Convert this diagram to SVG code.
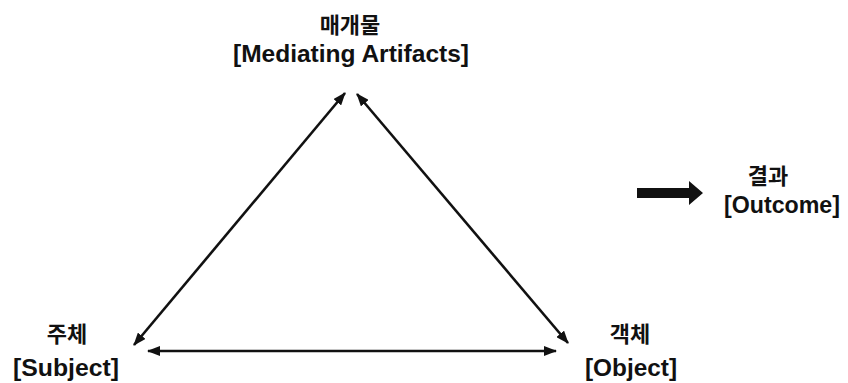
<svg xmlns="http://www.w3.org/2000/svg" width="848" height="383" viewBox="0 0 848 383">
<style>
text{fill:#111;text-anchor:middle}
.ko{font-family:"Noto Sans CJK KR",sans-serif;font-size:22px;font-weight:700}
.en{font-family:"Liberation Sans",Arial,sans-serif;font-size:24px;font-weight:700}
.c{stroke:#111;stroke-width:2.6;fill:none;marker-start:url(#a);marker-end:url(#a)}
</style>
<defs>
<marker id="a" viewBox="0 0 13 10" refX="12" refY="5" markerWidth="13" markerHeight="10" markerUnits="userSpaceOnUse" orient="auto-start-reverse">
<path d="M0,0 L13,5 L0,10 Z" fill="#111"/>
</marker>
</defs>
<rect width="848" height="383" fill="#fff"/>
<g id="mediating">
<text class="ko" x="350" y="33">매개물</text>
<text class="en" x="351" y="62" textLength="236" lengthAdjust="spacingAndGlyphs">[Mediating Artifacts]</text>
</g>
<g id="subject">
<text class="ko" x="67" y="342">주체</text>
<text class="en" x="66" y="376" textLength="106" lengthAdjust="spacingAndGlyphs">[Subject]</text>
</g>
<g id="object">
<text class="ko" x="630" y="342">객체</text>
<text class="en" x="631" y="376" textLength="92" lengthAdjust="spacingAndGlyphs">[Object]</text>
</g>
<g id="outcome">
<text class="ko" x="768" y="184">결과</text>
<text class="en" x="782" y="213" textLength="116" lengthAdjust="spacingAndGlyphs">[Outcome]</text>
</g>
<g id="connectors">
<line class="c" x1="134" y1="345" x2="345" y2="93"/>
<line class="c" x1="357" y1="94" x2="568" y2="343"/>
<line class="c" x1="148" y1="351" x2="556" y2="351"/>
<path d="M637,188 L689,188 L689,181 L703,193 L689,205 L689,198 L637,198 Z" fill="#111"/>
</g>
</svg>
